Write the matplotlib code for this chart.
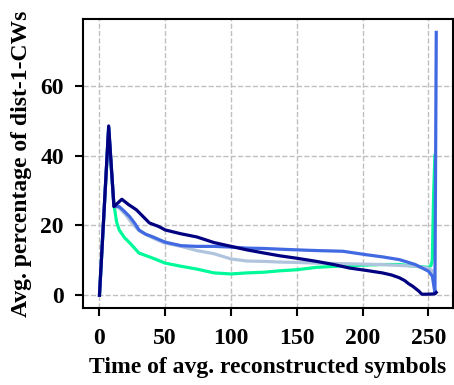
import numpy as np
import matplotlib
matplotlib.use('Agg')
from matplotlib import pyplot as plt

plt.rcParams['font.family'] = ['Liberation Serif', 'DejaVu Serif']
plt.rcParams['font.weight'] = 'bold'

# values (x = time, y = avg. percentage)
navy_x = [0, 7, 11, 17, 22, 28, 38, 45, 50, 62, 74, 87, 100, 112, 125, 137, 150, 165, 178, 190, 203, 215, 222, 228, 232, 235, 238, 240, 243, 245, 250, 255, 256]
navy_y = [0, 48.5, 25.4, 27.5, 26, 24.5, 20.7, 19.7, 18.7, 17.6, 16.7, 15.1, 14, 13, 12.1, 11.3, 10.6, 9.7, 8.8, 7.8, 7.1, 6.4, 5.8, 5, 4.2, 3.3, 2.6, 2, 1.1, 0.3, 0.3, 0.4, 0.8]

blue_x = [0, 7, 11, 15, 19, 23, 27, 30, 35, 40, 50, 62, 74, 87, 100, 112, 125, 137, 150, 165, 185, 203, 215, 228, 240, 250, 253, 255, 256]
blue_y = [0, 48, 25.5, 25.4, 24, 22.5, 20.5, 18.7, 17.5, 16.8, 15.2, 14.2, 14, 14, 13.8, 13.5, 13.4, 13.2, 13, 12.8, 12.6, 11.6, 11, 10.2, 8.8, 6.9, 5.5, 0.8, 75.3]

steel_x = [0, 7, 11, 15, 20, 25, 30, 40, 49, 62, 74, 87, 100, 112, 125, 137, 150, 165, 190, 215, 240, 250, 253, 255]
steel_y = [0, 48, 25.5, 25, 23, 20.5, 18.5, 16.5, 15, 14, 12.8, 11.9, 10.4, 9.8, 9.7, 9.5, 9.4, 9.2, 9, 8.8, 8.3, 7.8, 7, 1]

green_x = [0, 7, 9, 11, 13, 15, 19, 23, 30, 40, 50, 62, 74, 87, 100, 112, 125, 137, 150, 165, 190, 215, 228, 240, 250, 252, 253, 254, 255]
green_y = [0, 48, 36, 26, 21, 18.7, 16.5, 15, 12.1, 10.7, 9.2, 8.3, 7.5, 6.4, 6.1, 6.4, 6.6, 7, 7.3, 8, 8.5, 8.8, 8.8, 8.3, 8, 8.5, 10, 29, 40]

fig = plt.figure(figsize=(4.54, 3.85), dpi=100)
ax = fig.add_axes([0.182, 0.199, 0.816, 0.751])

ax.plot(green_x, green_y, color='#00FA9A', lw=2.3)
ax.plot(steel_x, steel_y, color='#B0C4DE', lw=2.3)
ax.plot(blue_x, blue_y, color='#4169E1', lw=2.3)
ax.plot(navy_x, navy_y, color='#000080', lw=2.3)

ax.set_xticks([0, 50, 100, 150, 200, 250])
ax.set_yticks([0, 20, 40, 60])
ax.grid(True, linestyle='--', color='#c0c0c0', lw=1)
ax.tick_params(axis='both', labelsize=17, width=1.5, length=6)
ax.tick_params(axis='x', pad=8)
ax.tick_params(axis='y', pad=7.5)
for s in ax.spines.values():
    s.set_linewidth(1.5)

ax.set_xlabel('Time of avg. reconstructed symbols', fontsize=17, fontweight='bold', labelpad=6)
ax.set_ylabel('Avg. percentage of dist-1-CWs', fontsize=17, fontweight='bold', labelpad=6)

fig.savefig('out.png', dpi=100)
